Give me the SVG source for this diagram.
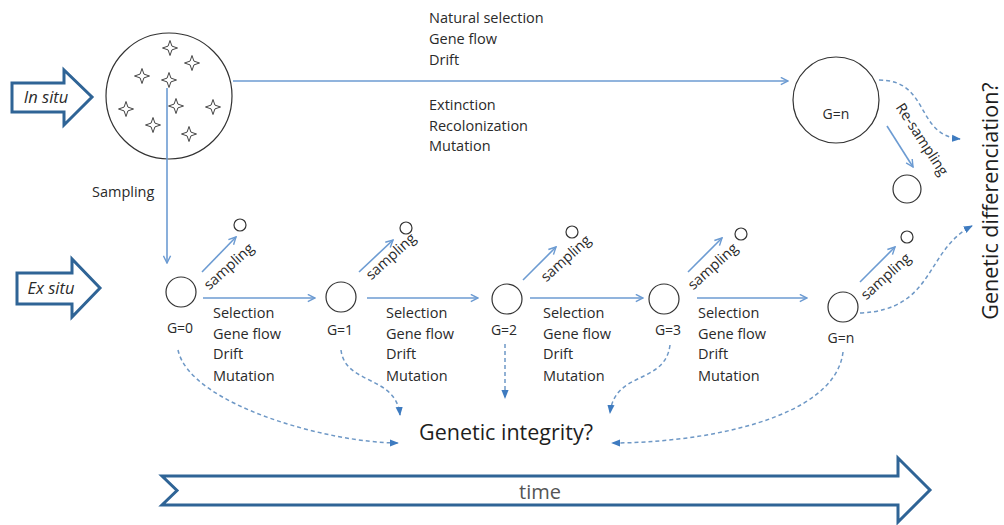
<svg xmlns="http://www.w3.org/2000/svg" width="1004" height="525" viewBox="0 0 1004 525">
<style>
text{font-family:"Open Sans","Liberation Sans",sans-serif;fill:#2a2a2a}
.t{font-size:14.5px}
.g{font-size:14px}
.big{font-size:21.5px;fill:#1e1e1e}
.blk{fill:#fff;stroke:#2F6496;stroke-width:3;stroke-linejoin:miter}
.conn{stroke:#6C9BD2;stroke-width:1.6;fill:none}
.dash{stroke:#6E98C6;stroke-width:1.5;fill:none;stroke-dasharray:4 3}
.node{fill:#fff;stroke:#333;stroke-width:1.2}
.star{fill:#fff;stroke:#444;stroke-width:1}
</style>
<defs>
<marker id="open" viewBox="0 0 10 10" refX="9" refY="5" markerWidth="9" markerHeight="9" markerUnits="userSpaceOnUse" orient="auto">
<path d="M1,1 L9,5 L1,9" fill="none" stroke="#6C9BD2" stroke-width="1.6"/>
</marker>
<marker id="tri" viewBox="0 0 10 10" refX="9" refY="5" markerWidth="9" markerHeight="9" markerUnits="userSpaceOnUse" orient="auto">
<path d="M0,1 L10,5 L0,9 Z" fill="#3E7BC0"/>
</marker>
<path id="st" d="M0,-7.5 L1.9,-1.9 L7.5,0 L1.9,1.9 L0,7.5 L-1.9,1.9 L-7.5,0 L-1.9,-1.9 Z"/>
</defs>

<g id="insitu-arrow">
<path class="blk" d="M12,83 H64 V70 L92,97 L64,125 V112 H12 Z"/>
<text x="46" y="103" font-size="16.5" font-style="italic" text-anchor="middle">In situ</text>
</g>
<g id="exsitu-arrow">
<path class="blk" d="M17,273 H72 V259 L100,288 L72,317 V304 H17 Z"/>
<text x="51" y="294" font-size="16.5" font-style="italic" text-anchor="middle">Ex situ</text>
</g>
<g id="time-arrow">
<path class="blk" d="M162,476 H898 V458 L930,490 L898,522 V505 H162 L177,490.5 Z"/>
<text x="540" y="499" font-size="20" text-anchor="middle" style="fill:#555">time</text>
</g>

<g id="source-population">
<circle class="node" cx="169" cy="96" r="63"/>
<use href="#st" class="star" x="170" y="48"/>
<use href="#st" class="star" x="192" y="63"/>
<use href="#st" class="star" x="142" y="76"/>
<use href="#st" class="star" x="169" y="80"/>
<use href="#st" class="star" x="126" y="109"/>
<use href="#st" class="star" x="176" y="106"/>
<use href="#st" class="star" x="213" y="107"/>
<use href="#st" class="star" x="153" y="125"/>
<use href="#st" class="star" x="189" y="134"/>
</g>

<g id="insitu-gn">
<circle class="node" cx="836" cy="100" r="43"/>
<text class="g" x="836" y="119" text-anchor="middle">G=n</text>
</g>
<g id="resample"><circle class="node" cx="907" cy="189" r="14"/></g>

<g id="g0"><circle class="node" cx="181" cy="292" r="15"/><text class="g" x="180" y="333" text-anchor="middle">G=0</text></g>
<g id="g1"><circle class="node" cx="341" cy="297" r="15"/><text class="g" x="340" y="335" text-anchor="middle">G=1</text></g>
<g id="g2"><circle class="node" cx="507" cy="299" r="15"/><text class="g" x="504" y="335" text-anchor="middle">G=2</text></g>
<g id="g3"><circle class="node" cx="664" cy="299" r="15"/><text class="g" x="668" y="335" text-anchor="middle">G=3</text></g>
<g id="gn"><circle class="node" cx="843" cy="307" r="15"/><text class="g" x="841" y="343" text-anchor="middle">G=n</text></g>

<g id="s0"><circle class="node" cx="240" cy="225" r="6"/></g>
<g id="s1"><circle class="node" cx="406" cy="228" r="6"/></g>
<g id="s2"><circle class="node" cx="572" cy="232" r="6"/></g>
<g id="s3"><circle class="node" cx="741" cy="234" r="6"/></g>
<g id="sn"><circle class="node" cx="907" cy="237" r="6"/></g>

<g id="connectors">
<line class="conn" x1="233" y1="81" x2="788" y2="81" marker-end="url(#open)"/>
<line class="conn" x1="167" y1="88" x2="167" y2="263" marker-end="url(#open)"/>
<line class="conn" x1="887" y1="126" x2="913" y2="167" marker-end="url(#open)"/>
<line class="conn" x1="202" y1="272" x2="236" y2="237" marker-end="url(#open)"/>
<line class="conn" x1="359" y1="272" x2="393" y2="240" marker-end="url(#open)"/>
<line class="conn" x1="523" y1="280" x2="556" y2="247" marker-end="url(#open)"/>
<line class="conn" x1="688" y1="272" x2="722" y2="238" marker-end="url(#open)"/>
<line class="conn" x1="860" y1="282" x2="895" y2="247" marker-end="url(#open)"/>
<line class="conn" x1="203" y1="298" x2="315" y2="298" marker-end="url(#open)"/>
<line class="conn" x1="367" y1="298" x2="478" y2="298" marker-end="url(#open)"/>
<line class="conn" x1="530" y1="298" x2="643" y2="298" marker-end="url(#open)"/>
<line class="conn" x1="697" y1="298" x2="807" y2="298" marker-end="url(#open)"/>
<path class="dash" d="M178,350 C190,405 330,443 398,443" marker-end="url(#tri)"/>
<path class="dash" d="M341,350 C345,385 396,375 400,415" marker-end="url(#tri)"/>
<path class="dash" d="M505,344 L505,398" marker-end="url(#tri)"/>
<path class="dash" d="M670,345 C665,385 615,370 610,413" marker-end="url(#tri)"/>
<path class="dash" d="M843,352 C835,420 700,443 612,443" marker-end="url(#tri)"/>
<path class="dash" d="M879,80 C930,80 915,135 960,139" marker-end="url(#tri)"/>
<path class="dash" d="M860,313 C935,310 925,250 972,226" marker-end="url(#tri)"/>
</g>

<g id="labels">
<text class="t" x="429" y="23">Natural selection</text>
<text class="t" x="429" y="44">Gene flow</text>
<text class="t" x="429" y="65">Drift</text>
<text class="t" x="429" y="110">Extinction</text>
<text class="t" x="429" y="131">Recolonization</text>
<text class="t" x="429" y="151">Mutation</text>
<text class="t" x="92" y="197">Sampling</text>
<text class="t" transform="translate(918,142) rotate(57)" text-anchor="middle">Re-sampling</text>
<text class="t" transform="translate(232,270) rotate(-42)" text-anchor="middle">sampling</text>
<text class="t" transform="translate(394,260) rotate(-42)" text-anchor="middle">sampling</text>
<text class="t" transform="translate(569,262) rotate(-42)" text-anchor="middle">sampling</text>
<text class="t" transform="translate(716,270) rotate(-42)" text-anchor="middle">sampling</text>
<text class="t" transform="translate(889,280) rotate(-42)" text-anchor="middle">sampling</text>
<g class="t">
<text x="213" y="318">Selection</text><text x="213" y="339">Gene flow</text><text x="213" y="359">Drift</text><text x="213" y="381">Mutation</text>
<text x="386" y="318">Selection</text><text x="386" y="339">Gene flow</text><text x="386" y="359">Drift</text><text x="386" y="381">Mutation</text>
<text x="543" y="318">Selection</text><text x="543" y="339">Gene flow</text><text x="543" y="359">Drift</text><text x="543" y="381">Mutation</text>
<text x="698" y="318">Selection</text><text x="698" y="339">Gene flow</text><text x="698" y="359">Drift</text><text x="698" y="381">Mutation</text>
</g>
<text class="big" x="506" y="440" text-anchor="middle">Genetic integrity?</text>
<text class="big" transform="translate(998,201) rotate(-90)" text-anchor="middle" font-size="23">Genetic differenciation?</text>
</g>
</svg>
